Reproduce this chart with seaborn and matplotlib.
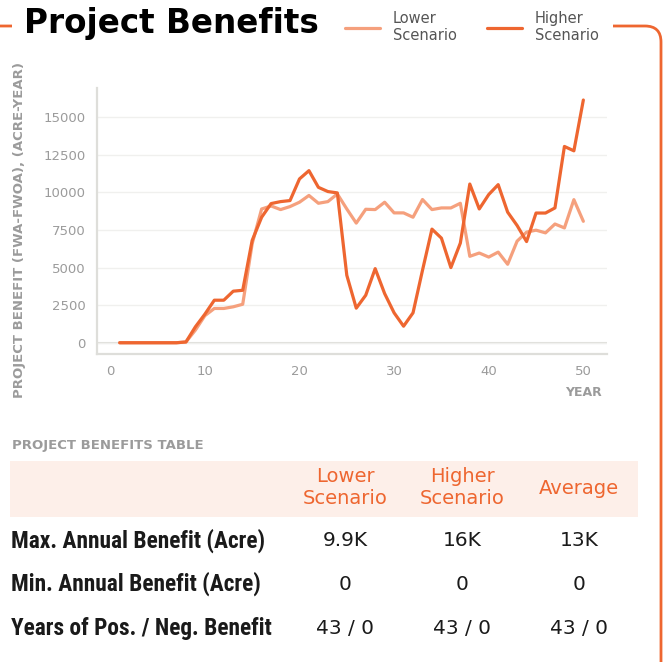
import matplotlib

matplotlib.use("Agg")

import matplotlib.pyplot as plt
import pandas as pd
import seaborn as sns
from matplotlib import font_manager
from matplotlib.patches import FancyBboxPatch, Rectangle
from matplotlib.transforms import IdentityTransform

# Canvas size in pixels (dpi 100)
W, H = 665, 662

# Chart data
YEARS = list(range(1, 51))
LOWER = [
    0, 0, 0, 0, 0, 0, 0, 50, 840, 1800,
    2280, 2280, 2390, 2560, 6590, 8900, 9100, 8860, 9060, 9350,
    9800, 9280, 9390, 9900, 8900, 7960, 8880, 8860, 9350, 8640,
    8640, 8350, 9530, 8860, 8970, 8970, 9280, 5750, 5970, 5700,
    6030, 5220, 6760, 7360, 7490, 7310, 7900, 7640, 9520, 8080,
]
HIGHER = [
    0, 0, 0, 0, 0, 0, 0, 50, 1060, 1900,
    2830, 2830, 3430, 3490, 6810, 8350, 9260, 9390, 9460, 10900,
    11450, 10340, 10060, 9970, 4490, 2300, 3160, 4930, 3270, 1990,
    1100, 1990, 4820, 7560, 6960, 5000, 6630, 10560, 8900, 9860,
    10520, 8690, 7800, 6730, 8630, 8630, 8970, 13060, 12770, 16150,
]
SCENARIOS = ["Lower\nScenario", "Higher\nScenario"]
Y_TICKS = [0, 2500, 5000, 7500, 10000, 12500, 15000]
X_TICKS = [0, 10, 20, 30, 40, 50]

# Table data
TABLE_COLS = ["Lower\nScenario", "Higher\nScenario", "Average"]
TABLE_ROWS = [
    "Max. Annual Benefit (Acre)",
    "Min. Annual Benefit (Acre)",
    "Years of Pos. / Neg. Benefit",
]
MAX_BENEFIT = ["9.9K", "16K", "13K"]
MIN_BENEFIT = ["0", "0", "0"]
POS_NEG_YEARS = ["43 / 0", "43 / 0", "43 / 0"]

# Styles
ORANGE = "#EE6630"
SALMON = "#F5A07D"
GREY_TXT = "#9B9B9B"
AXIS_GREY = "#DEDEDA"


def pick_narrow_font() -> dict:
    # condensed face for the bold row labels, whichever is installed
    names = {f.name for f in font_manager.fontManager.ttflist}
    for name in ["Liberation Sans Narrow", "DejaVu Sans Condensed", "Roboto Condensed",
                 "Open Sans Condensed", "Noto Sans Condensed"]:
        if name in names:
            return {"family": name}
    return {"family": "DejaVu Sans", "stretch": "condensed"}


def fx(x):
    return x / W


def fy(y):
    return 1 - y / H


def main() -> None:
    sns.set_style("white")
    plt.rcParams["font.family"] = ["DejaVu Sans"]
    narrow = pick_narrow_font()

    fig = plt.figure(figsize=(W / 100, H / 100), dpi=100)
    fig.patch.set_facecolor("white")

    # orange rounded frame, broken by the title strip
    frame = FancyBboxPatch(
        (-40, -40), 661 + 40, (H - 26) + 40,
        boxstyle="round,pad=0,rounding_size=16",
        transform=IdentityTransform(),
        fill=False, ec=ORANGE, lw=2.0, zorder=1,
    )
    fig.add_artist(frame)
    fig.add_artist(Rectangle((fx(12), fy(38)), fx(613) - fx(12), fy(14) - fy(38),
                             transform=fig.transFigure, fc="white", ec="none", zorder=2))

    fig.text(fx(24), fy(23), "Project Benefits", fontsize=23.5, fontweight="bold",
             va="center", ha="left", color="black", zorder=3)

    # line chart
    df = pd.DataFrame({
        "Year": YEARS * 2,
        "Benefit": LOWER + HIGHER,
        "Scenario": [SCENARIOS[0]] * len(YEARS) + [SCENARIOS[1]] * len(YEARS),
    })
    ax = fig.add_axes([fx(97), fy(354), fx(607) - fx(97), fy(88) - fy(354)])
    sns.lineplot(data=df, x="Year", y="Benefit", hue="Scenario", hue_order=SCENARIOS,
                 palette=[SALMON, ORANGE], linewidth=2.3, legend=False, ax=ax)
    ax.set_xlim(-1.4, 52.5)
    ax.set_ylim(-750, 16950)
    ax.set_xticks(X_TICKS)
    ax.set_yticks(Y_TICKS)
    ax.yaxis.grid(True, color="#F0F0EE", lw=1)
    ax.xaxis.grid(False)
    ax.axhline(0, color=AXIS_GREY, lw=1.5, zorder=0.5)
    for side in ["top", "right"]:
        ax.spines[side].set_visible(False)
    for side in ["left", "bottom"]:
        ax.spines[side].set_color(AXIS_GREY)
        ax.spines[side].set_linewidth(1.6)
    ax.tick_params(length=0, labelsize=9.5, labelcolor=GREY_TXT, pad=8)
    ax.set_xlabel("")
    ax.set_ylabel("")

    fig.text(fx(602), fy(393), "YEAR", fontsize=9, fontweight="bold", color=GREY_TXT,
             ha="right", va="center")
    fig.text(fx(20), fy(230), "PROJECT BENEFIT (FWA-FWOA), (ACRE-YEAR)", fontsize=9.5,
             fontweight="bold", color=GREY_TXT, rotation=90, ha="center", va="center")

    fig.legend(ax.lines[:2], SCENARIOS, loc="center left", bbox_to_anchor=(fx(345), fy(27)),
               ncol=2, frameon=False, borderpad=0, borderaxespad=0, handlelength=2.4,
               handletextpad=0.9, columnspacing=2.05, labelcolor="#555555", fontsize=10.5)

    # benefits table
    fig.text(fx(12), fy(445), "PROJECT BENEFITS TABLE", fontsize=9.5, fontweight="bold",
             color=GREY_TXT, ha="left", va="center")
    fig.add_artist(Rectangle((fx(10), fy(517)), fx(638) - fx(10), fy(461) - fy(517),
                             transform=fig.transFigure, fc="#FDEFE9", ec="none", zorder=1))
    col_x = [345, 462, 579]
    for x, name in zip(col_x, TABLE_COLS):
        fig.text(fx(x), fy(488), name, fontsize=14, color=ORANGE, ha="center", va="center",
                 linespacing=1.2, zorder=3)

    row_y = [541, 584, 628]
    for y, label, vals in zip(row_y, TABLE_ROWS, [MAX_BENEFIT, MIN_BENEFIT, POS_NEG_YEARS]):
        fig.text(fx(11), fy(y), label, fontsize=16.8, fontweight="bold", color="#1A1A1A",
                 ha="left", va="center", **narrow)
        for x, v in zip(col_x, vals):
            fig.text(fx(x), fy(y), v, fontsize=14.5, color="#1A1A1A", ha="center", va="center")

    fig.savefig("out.png", dpi=100)
    plt.close(fig)


if __name__ == "__main__":
    main()
